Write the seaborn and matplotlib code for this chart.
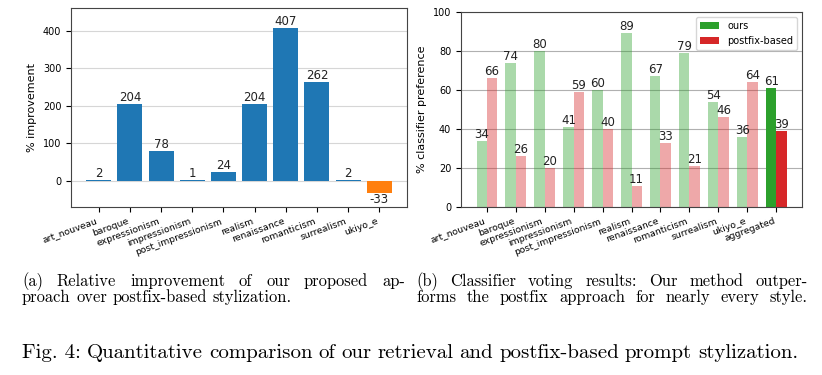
import pandas as pd
import seaborn as sns
import matplotlib.pyplot as plt

# data
styles = ["art_nouveau", "baroque", "expressionism", "impressionism", "post_impressionism",
          "realism", "renaissance", "romanticism", "surrealism", "ukiyo_e"]
improvement = [2, 204, 78, 1, 24, 204, 407, 262, 2, -33]

styles_b = styles + ["aggregated"]
ours = [34, 74, 80, 41, 60, 89, 67, 79, 54, 36, 61]
postfix = [66, 26, 20, 59, 40, 11, 33, 21, 46, 64, 39]

W, H = 822, 375
fig = plt.figure(figsize=(W / 100, H / 100), dpi=100)

# ---- (a) relative improvement
ax1 = fig.add_axes([71 / W, 1 - 207 / H, 336 / W, 199 / H])
colors_a = ["tab:orange" if v < 0 else "tab:blue" for v in improvement]
sns.barplot(x=styles, y=improvement, hue=styles, palette=colors_a, legend=False,
            saturation=1, errorbar=None, width=0.8, ax=ax1)
for c in ax1.containers:
    ax1.bar_label(c, fmt="%.0f", fontsize=8.5, color="#222222")
ax1.set_xlim(-0.89, 9.89)
ax1.set_ylim(-70, 460)
ax1.set_yticks([0, 100, 200, 300, 400])
ax1.set_ylabel("% improvement", fontsize=8)
ax1.yaxis.grid(True, color="#d6d6d6", lw=0.8)
ax1.xaxis.grid(False)
ax1.set_axisbelow(True)

# ---- (b) classifier voting
df = pd.DataFrame({
    "style": styles_b * 2,
    "method": ["ours"] * len(ours) + ["postfix-based"] * len(postfix),
    "pref": ours + postfix,
})
ax2 = fig.add_axes([461 / W, 1 - 207 / H, 341 / W, 195 / H])
sns.barplot(data=df, x="style", y="pref", hue="method",
            palette={"ours": "tab:green", "postfix-based": "tab:red"},
            saturation=1, errorbar=None, width=0.7, ax=ax2)
sns.move_legend(ax2, "upper right", title=None, fontsize=7, frameon=True)
for c in ax2.containers:
    for patch, s in zip(c, styles_b):
        if s != "aggregated":
            patch.set_alpha(0.4)
    ax2.bar_label(c, fmt="%.0f", fontsize=8.5, color="#222222")
ax2.set_xlim(-0.885, 10.885)
ax2.set_ylim(0, 100)
ax2.set_yticks([0, 20, 40, 60, 80, 100])
ax2.set_xlabel("")
ax2.set_ylabel("% classifier preference", fontsize=8)
ax2.yaxis.grid(True, color="#b0b0b0", lw=0.8)
ax2.xaxis.grid(False)
ax2.set_axisbelow(True)

for ax in (ax1, ax2):
    ax.tick_params(axis="y", labelsize=7)
    ax.tick_params(axis="x", labelsize=6.7)
    plt.setp(ax.get_xticklabels(), rotation=20, ha="right")
    for sp in ax.spines.values():
        sp.set_color("#444444")
        sp.set_linewidth(0.8)


# ---- captions (justified like the LaTeX source)
def caption_line(words, x0, y, size, x1=None):
    texts = [fig.text(0, 1 - y / H, w, fontsize=size, family="cmr10", va="baseline")
             for w in words]
    rend = fig.canvas.get_renderer()
    widths = [t.get_window_extent(rend).width for t in texts]
    if x1 is None or len(words) < 2:
        gap = 0.333 * size * 100 / 72
    else:
        gap = (x1 - x0 - sum(widths)) / (len(words) - 1)
    x = x0
    for t, w in zip(texts, widths):
        t.set_x(x / W)
        x += w + gap


sub = 11.9
caption_line("(a) Relative improvement of our proposed ap-".split(), 22, 285.8, sub, 405)
caption_line("proach over postfix-based stylization.".split(), 22, 302, sub)
caption_line("(b) Classifier voting results: Our method outper-".split(), 416, 285.8, sub, 808)
caption_line("forms the postfix approach for nearly every style.".split(), 416, 302, sub, 808)
caption_line(["Fig. 4:", "Quantitative", "comparison", "of", "our", "retrieval", "and",
              "postfix-based", "prompt", "stylization."], 22, 358, 15, 798)

fig.savefig("out.png", dpi=100)
